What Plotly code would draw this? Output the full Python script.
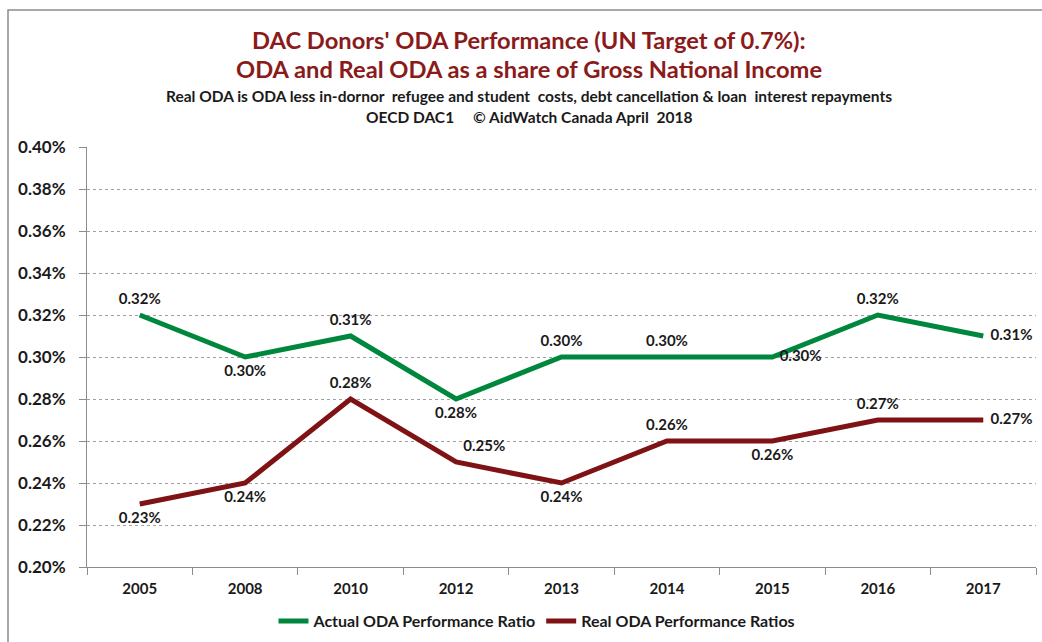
import plotly.graph_objects as go

years = ["2005", "2008", "2010", "2012", "2013", "2014", "2015", "2016", "2017"]
actual_oda = [0.32, 0.30, 0.31, 0.28, 0.30, 0.30, 0.30, 0.32, 0.31]
real_oda = [0.23, 0.24, 0.28, 0.25, 0.24, 0.26, 0.26, 0.27, 0.27]
actual_pos = ["top center", "bottom center", "top center", "bottom center", "top center",
              "top center", "middle right", "top center", "middle right"]
real_pos = ["bottom center", "bottom center", "top center", "top right", "bottom center",
            "top center", "bottom center", "top center", "middle right"]

FONT = "Lato"
GREEN = "#00873E"
RED = "#7E1214"
TITLE_RED = "#8B1A1A"
INK = "#1a1a1a"

fig = go.Figure()
for name, vals, pos, col in [("Actual ODA Performance Ratio", actual_oda, actual_pos, GREEN),
                             ("Real ODA Performance Ratios", real_oda, real_pos, RED)]:
    fig.add_trace(go.Scatter(
        x=years, y=vals, mode="lines+markers+text", name=name,
        line=dict(color=col, width=5),
        marker=dict(size=10, color="rgba(0,0,0,0)", line=dict(width=0)),
        text=[f"{v:.2f}%" for v in vals],
        textposition=pos, textfont=dict(family=FONT, size=15, color=INK, weight="bold"),
        cliponaxis=False,
    ))

L, R, T, B = 87, 6, 147, 75
W, H = 1042, 642
pw = W - L - R
ph = H - T - B

def px_x(px):
    return (px - L) / pw

def px_y(py):
    return (H - B - py) / ph

fig.update_layout(
    width=W, height=H,
    margin=dict(l=L, r=R, t=T, b=B, pad=0, autoexpand=False),
    paper_bgcolor="white", plot_bgcolor="white",
    font=dict(family=FONT, color=INK),
    showlegend=True,
    legend=dict(orientation="h", x=px_x(537), xanchor="center", y=px_y(621), yanchor="middle",
                font=dict(family=FONT, size=16, weight="bold", color=INK),
                traceorder="normal"),
    xaxis=dict(type="category", showgrid=False, showline=True, linecolor="#8c8c8c", linewidth=1,
               ticks="outside", tickson="boundaries", ticklen=7, tickcolor="#8c8c8c",
               tickfont=dict(family=FONT, size=15, weight="bold", color=INK),
               ticklabelstandoff=8, automargin=False,
               range=[-0.5, 8.5], fixedrange=True),
    yaxis=dict(range=[0.20, 0.40], dtick=0.02, tickformat=".2f", ticksuffix="%",
               showgrid=True, gridcolor="#a0a0a0", griddash="dot", gridwidth=1,
               showline=True, linecolor="#8c8c8c", linewidth=1,
               ticks="outside", ticklen=7, tickcolor="#8c8c8c",
               tickfont=dict(family=FONT, size=17, weight="bold", color=INK),
               ticklabelstandoff=10, automargin=False,
               zeroline=False, fixedrange=True),
)

# outer chart border
fig.add_shape(type="rect", xref="paper", yref="paper",
              x0=px_x(8), x1=px_x(1070), y0=px_y(680), y1=px_y(10),
              line=dict(color="#8c8c8c", width=1.5), fillcolor="rgba(0,0,0,0)", layer="below")

annots = [
    ("DAC Donors' ODA Performance (UN Target of 0.7%):", 40, 23.7, TITLE_RED),
    ("ODA and Real ODA as a share of Gross National Income", 69, 23.7, TITLE_RED),
    ("Real ODA is ODA less in-dornor  refugee and student  costs, debt cancellation & loan  interest repayments", 96, 15.5, INK),
    ("OECD DAC1     © AidWatch Canada April  2018", 117, 15.5, INK),
]
for txt, yy, sz, col in annots:
    fig.add_annotation(text=txt, xref="paper", yref="paper", x=px_x(529), y=px_y(yy),
                       xanchor="center", yanchor="middle", showarrow=False,
                       font=dict(family=FONT, size=sz, color=col, weight="bold"))

fig.add_annotation(text="Chart 8:", xref="paper", yref="paper", x=px_x(0), y=px_y(6),
                   xanchor="left", yanchor="bottom", showarrow=False,
                   font=dict(family=FONT, size=18, color=INK, weight="bold"))

fig.write_html("out.html", config={"displayModeBar": False},
               post_script="document.body.style.margin='0';")
